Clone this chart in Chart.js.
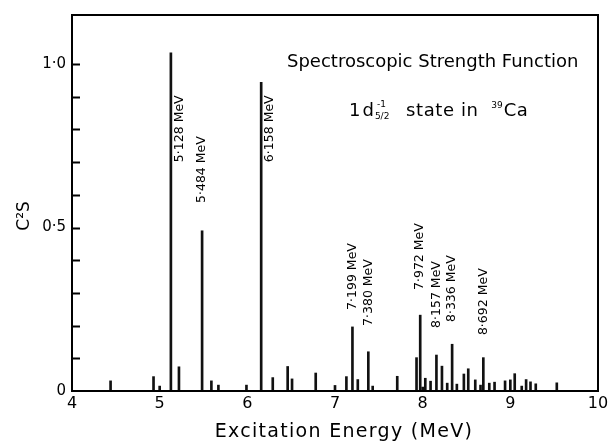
<!DOCTYPE html>
<html>
<head>
<meta charset="utf-8">
<script src="https://cdn.jsdelivr.net/npm/chart.js@4/dist/chart.umd.min.js"></script>
<style>
html,body{margin:0;padding:0;background:#fff}
</style>
</head>
<body>
<canvas id="chart" width="615" height="444"></canvas>
<script>
// levels in 39Ca (MeV) and their spectroscopic strength C2S
var energies = [4.44, 4.93, 5.00, 5.128, 5.22, 5.484, 5.59, 5.67, 5.99, 6.158,
  6.29, 6.46, 6.51, 6.78, 7.00, 7.13, 7.199, 7.26, 7.380, 7.43,
  7.71, 7.93, 7.972, 8.00, 8.03, 8.09, 8.157, 8.22, 8.28, 8.336,
  8.39, 8.47, 8.52, 8.60, 8.66, 8.692, 8.76, 8.82, 8.94, 9.00,
  9.05, 9.13, 9.18, 9.23, 9.29, 9.53]
var strengths = [0.031, 0.044, 0.015, 1.034, 0.074, 0.49, 0.031, 0.018, 0.018, 0.944,
  0.041, 0.075, 0.037, 0.055, 0.017, 0.044, 0.196, 0.035, 0.12, 0.015,
  0.045, 0.102, 0.232, 0.012, 0.039, 0.03, 0.11, 0.076, 0.024, 0.143,
  0.021, 0.052, 0.068, 0.034, 0.018, 0.102, 0.024, 0.027, 0.031, 0.034,
  0.053, 0.015, 0.035, 0.028, 0.022, 0.025]

// labelled peaks, text and the C2S value where the rotated label starts
var peakEnergies = [5.128, 5.484, 6.158, 7.199, 7.380, 7.972, 8.157, 8.336, 8.692]
var peakTexts = ['5·128 MeV', '5·484 MeV', '6·158 MeV', '7·199 MeV', '7·380 MeV',
  '7·972 MeV', '8·157 MeV', '8·336 MeV', '8·692 MeV']
var peakLabelAt = [0.70, 0.575, 0.70, 0.248, 0.199, 0.309, 0.193, 0.211, 0.171]

var xTicks = [4, 5, 6, 7, 8, 9, 10]
var yTickValues = [0, 0.5, 1.0]
var yTickTexts = ['0', '0·5', '1·0']

var fonte = '"DejaVu Sans", sans-serif'

var moldura = {
  id: 'moldura',
  afterDraw: function (chart) {
    var c = chart.ctx, a = chart.chartArea, ys = chart.scales.y
    c.save()
    c.strokeStyle = '#000'
    c.lineWidth = 2
    c.strokeRect(a.left, a.top, a.right - a.left, a.bottom - a.top)
    // inward ticks every 0.1
    ys.ticks.forEach(function (t) {
      var v = Math.round(t.value * 10) / 10
      if (Math.abs(v - t.value) > 1e-6 || v <= 0) return
      var py = Math.round(ys.getPixelForValue(v)) + 0.5
      c.beginPath()
      c.moveTo(a.left, py)
      c.lineTo(a.left + 8, py)
      c.stroke()
    })
    c.restore()
  }
}

var textos = {
  id: 'textos',
  afterDraw: function (chart) {
    var c = chart.ctx, a = chart.chartArea, xs = chart.scales.x, ys = chart.scales.y
    c.save()
    c.fillStyle = '#000'

    // peak labels
    c.font = '12.5px ' + fonte
    c.textAlign = 'left'
    c.textBaseline = 'middle'
    peakEnergies.forEach(function (e, i) {
      var px = xs.getPixelForValue(e)
      var h = strengths[energies.indexOf(e)]
      if (peakLabelAt[i] < h) px += 9
      var py = ys.getPixelForValue(peakLabelAt[i])
      c.save()
      c.translate(px, py)
      c.rotate(-Math.PI / 2)
      c.fillText(peakTexts[i], 0, 0)
      c.restore()
    })

    // header
    c.textBaseline = 'alphabetic'
    c.font = '18px ' + fonte
    c.letterSpacing = '0px'
    c.fillText('Spectroscopic Strength Function', 287, 67)

    var x = 349, y = 116
    c.font = '18px ' + fonte
    c.fillText('1', x, y); x += c.measureText('1').width + 2
    c.fillText('d', x, y); x += c.measureText('d').width + 1
    c.font = '9px ' + fonte
    c.fillText('5/2', x, y + 3)
    var w = c.measureText('5/2').width
    c.fillText('-1', x + 2, y - 9)
    x += w + 4
    c.font = '18px ' + fonte
    c.letterSpacing = '0.6px'
    var s = '  state in  '
    c.fillText(s, x, y); x += c.measureText(s).width
    c.letterSpacing = '0px'
    c.font = '9px ' + fonte
    c.fillText('39', x, y - 8); x += c.measureText('39').width + 1
    c.font = '18px ' + fonte
    c.letterSpacing = '0.6px'
    c.fillText('Ca', x, y)

    // axis titles
    c.textAlign = 'center'
    c.textBaseline = 'middle'
    c.font = '19px ' + fonte
    c.letterSpacing = '1.3px'
    c.fillText('Excitation Energy (MeV)', 344, 432)
    c.letterSpacing = '0px'
    c.save()
    c.translate(25, 216)
    c.rotate(-Math.PI / 2)
    c.font = '17px ' + fonte
    c.fillText('C²S', 0, 0)
    c.restore()

    c.restore()
  }
}

var ctx = document.getElementById('chart')
var grafico = new Chart(ctx, {
  type: 'bar',
  data: {
    datasets: [{
      data: energies.map(function (e, i) { return { x: e, y: strengths[i] } }),
      backgroundColor: '#111',
      borderWidth: 0,
      barThickness: 2
    }]
  },
  options: {
    responsive: false,
    animation: false,
    layout: { padding: { top: 14, right: 17, left: 0, bottom: 0 } },
    plugins: { legend: { display: false }, tooltip: { enabled: false } },
    scales: {
      x: {
        type: 'linear', min: 4, max: 10, offset: false,
        grid: { display: false, drawTicks: false },
        border: { display: false },
        ticks: {
          stepSize: 1, padding: 3, color: '#000', maxRotation: 0,
          font: { family: 'DejaVu Sans', size: 16 },
          callback: function (v) { return xTicks.indexOf(v) >= 0 ? String(v) : '' }
        },
        afterFit: function (s) { s.height = 53 }
      },
      y: {
        min: 0, max: 1.15,
        grid: { display: false, drawTicks: false },
        border: { display: false },
        ticks: {
          stepSize: 0.1, padding: 6, color: '#000', autoSkip: false,
          font: { family: 'DejaVu Sans', size: 15 },
          callback: function (v) {
            for (var i = 0; i < yTickValues.length; i++) {
              if (Math.abs(v - yTickValues[i]) < 1e-6) return yTickTexts[i]
            }
            return ''
          }
        },
        afterFit: function (s) { s.width = 72 }
      }
    }
  },
  plugins: [moldura, textos]
})
</script>
</body>
</html>
